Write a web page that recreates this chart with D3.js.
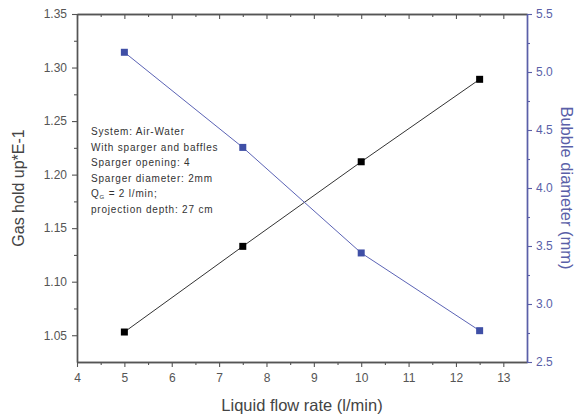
<!DOCTYPE html>
<html>
<head>
<meta charset="utf-8">
<script src="https://cdn.jsdelivr.net/npm/d3@7"></script>
<style>
  body { margin: 0; background: #fff; }
  text { font-family: "Liberation Sans", Arial, sans-serif; }
</style>
</head>
<body>
<div id="chart"></div>
<script>
const flowRate = [5, 7.5, 10, 12.5];
const gasHoldUp = [1.053, 1.133, 1.212, 1.289];
const bubbleDiameter = [5.17, 4.35, 3.44, 2.77];
const xTicks = [4, 5, 6, 7, 8, 9, 10, 11, 12, 13];
const yLeftTicks = [1.05, 1.10, 1.15, 1.20, 1.25, 1.30, 1.35];
const yRightTicks = [2.5, 3.0, 3.5, 4.0, 4.5, 5.0, 5.5];
const notes = [
    "System: Air-Water",
    "With sparger and baffles",
    "Sparger opening: 4",
    "Sparger diameter: 2mm",
    "Q_G = 2 l/min;",
    "projection depth: 27 cm"
];

const w = 584, h = 416;
const margin = { top: 14, right: 57, bottom: 54, left: 77 };
const blue = "#3f4fa6";
const axisBlue = "#5a5fa8";
const grey = "#555";

const svg = d3.select("#chart").append("svg")
    .attr("width", w)
    .attr("height", h);

const x = d3.scaleLinear()
    .domain([4, 13.5])
    .range([margin.left, w - margin.right]);

const yL = d3.scaleLinear()
    .domain([1.025, 1.35])
    .range([h - margin.bottom, margin.top]);

const yR = d3.scaleLinear()
    .domain([2.5, 5.5])
    .range([h - margin.bottom, margin.top]);

const xMinor = d3.range(4.5, 13.5, 1);
const yLMinor = d3.range(1.075, 1.35, 0.05);
const yRMinor = d3.range(2.75, 5.5, 0.5);

// axes
function styleAxis(g, color) {
    g.selectAll("path").attr("stroke", color).attr("stroke-width", 1.4);
    g.selectAll("line").attr("stroke", color).attr("stroke-width", 1.1);
    g.selectAll("text")
        .attr("fill", color)
        .attr("font-size", 12);
}

// bottom
svg.append("g")
    .attr("transform", `translate(0,${h - margin.bottom})`)
    .call(d3.axisBottom(x).tickValues(xMinor).tickSize(3).tickFormat("").tickSizeOuter(0))
    .call(g => styleAxis(g, grey));
svg.append("g")
    .attr("transform", `translate(0,${h - margin.bottom})`)
    .call(d3.axisBottom(x).tickValues(xTicks).tickSize(5).tickPadding(6).tickFormat(d3.format("d")).tickSizeOuter(0))
    .call(g => styleAxis(g, grey));

// top
svg.append("g")
    .attr("transform", `translate(0,${margin.top})`)
    .call(d3.axisBottom(x).tickValues(xMinor).tickSize(3).tickFormat("").tickSizeOuter(0))
    .call(g => styleAxis(g, grey));
svg.append("g")
    .attr("transform", `translate(0,${margin.top})`)
    .call(d3.axisBottom(x).tickValues(xTicks).tickSize(5).tickFormat("").tickSizeOuter(0))
    .call(g => styleAxis(g, grey));

// left
svg.append("g")
    .attr("transform", `translate(${margin.left},0)`)
    .call(d3.axisLeft(yL).tickValues(yLMinor).tickSize(3).tickFormat("").tickSizeOuter(0))
    .call(g => styleAxis(g, grey));
svg.append("g")
    .attr("transform", `translate(${margin.left},0)`)
    .call(d3.axisLeft(yL).tickValues(yLeftTicks).tickSize(5).tickPadding(5).tickFormat(d3.format(".2f")).tickSizeOuter(0))
    .call(g => styleAxis(g, grey));

// right
svg.append("g")
    .attr("transform", `translate(${w - margin.right},0)`)
    .call(d3.axisRight(yR).tickValues(yRMinor).tickSize(3).tickFormat("").tickSizeOuter(0))
    .call(g => styleAxis(g, axisBlue));
svg.append("g")
    .attr("transform", `translate(${w - margin.right},0)`)
    .call(d3.axisRight(yR).tickValues(yRightTicks).tickSize(5).tickPadding(4).tickFormat(d3.format(".1f")).tickSizeOuter(0))
    .call(g => styleAxis(g, axisBlue));

// lines
const holdData = flowRate.map((f, i) => ({ x: f, y: gasHoldUp[i] }));
const bubbleData = flowRate.map((f, i) => ({ x: f, y: bubbleDiameter[i] }));

svg.append("path")
    .datum(holdData)
    .attr("fill", "none")
    .attr("stroke", "#333")
    .attr("stroke-width", 1)
    .attr("d", d3.line().x(d => x(d.x)).y(d => yL(d.y)));

svg.append("path")
    .datum(bubbleData)
    .attr("fill", "none")
    .attr("stroke", "#5b63b5")
    .attr("stroke-width", 1)
    .attr("d", d3.line().x(d => x(d.x)).y(d => yR(d.y)));

// markers
const ms = 7;
svg.selectAll("rect.hold")
    .data(holdData)
    .enter()
    .append("rect")
    .attr("class", "hold")
    .attr("x", d => x(d.x) - ms / 2)
    .attr("y", d => yL(d.y) - ms / 2)
    .attr("width", ms)
    .attr("height", ms)
    .attr("fill", "#000");

svg.selectAll("rect.bubble")
    .data(bubbleData)
    .enter()
    .append("rect")
    .attr("class", "bubble")
    .attr("x", d => x(d.x) - ms / 2)
    .attr("y", d => yR(d.y) - ms / 2)
    .attr("width", ms)
    .attr("height", ms)
    .attr("fill", blue);

// annotation
const note = svg.append("text")
    .attr("font-size", 10)
    .attr("fill", "#333")
    .attr("letter-spacing", 0.8);

notes.forEach((t, i) => {
    const line = note.append("tspan")
        .attr("x", 91)
        .attr("y", 135 + i * 15.5);
    if (t.startsWith("Q_G")) {
        line.text("Q");
        line.append("tspan").attr("font-size", 6).attr("dy", 2).text("G");
        line.append("tspan").attr("dy", -2).text(t.slice(3));
    } else {
        line.text(t);
    }
});

// labels
svg.append("text")
    .attr("transform", "rotate(-90)")
    .attr("x", -(margin.top + (h - margin.bottom)) / 2)
    .attr("y", 24)
    .attr("text-anchor", "middle")
    .attr("font-size", 16)
    .attr("fill", "#444")
    .text("Gas hold up*E-1");

svg.append("text")
    .attr("transform", "rotate(90)")
    .attr("x", (margin.top + (h - margin.bottom)) / 2)
    .attr("y", -561)
    .attr("text-anchor", "middle")
    .attr("font-size", 16.5)
    .attr("fill", axisBlue)
    .text("Bubble diameter (mm)");

svg.append("text")
    .attr("x", x(8.75))
    .attr("y", 411)
    .attr("text-anchor", "middle")
    .attr("font-size", 16.5)
    .attr("fill", "#444")
    .text("Liquid flow rate (l/min)");
</script>
</body>
</html>
